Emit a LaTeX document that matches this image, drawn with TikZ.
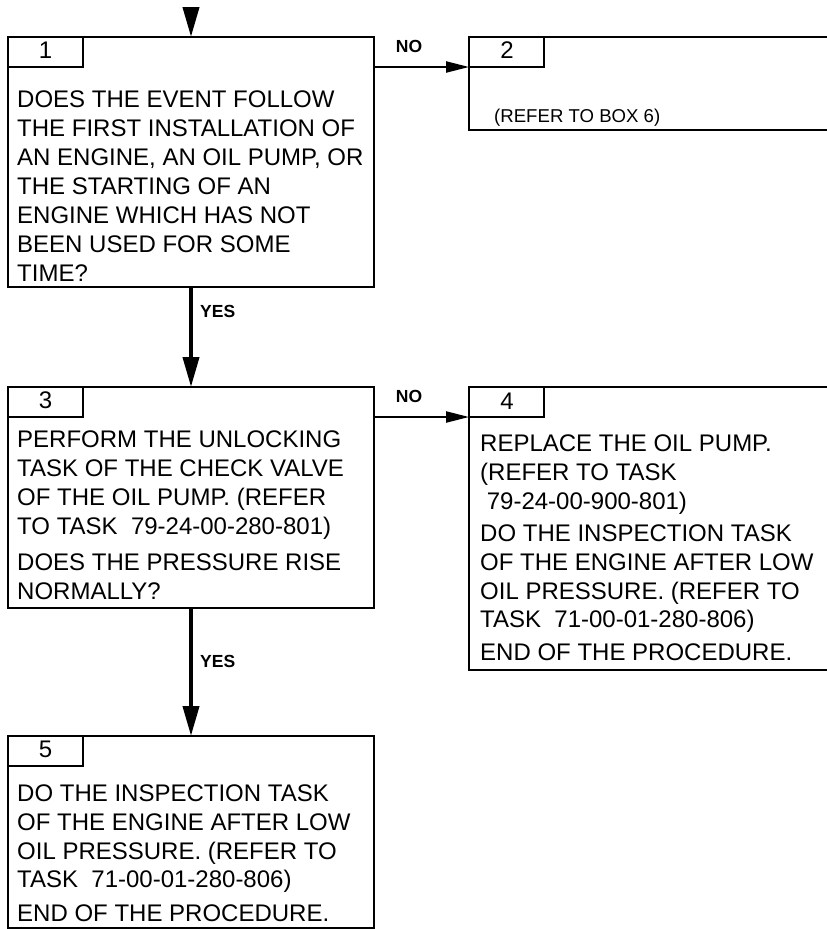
\documentclass[tikz,border=0pt]{standalone}
\usepackage{fontspec}
\setmainfont{Liberation Sans}
\usetikzlibrary{arrows.meta}
\begin{document}
\begin{tikzpicture}[x=1pt,y=-1pt,
  box/.style={draw, line width=2.8pt, inner sep=0pt, outer sep=0pt, anchor=north west},
  tabbox/.style={box, minimum width=75pt, minimum height=30pt},
  num/.style={anchor=base, inner sep=0pt, font=\fontsize{24}{29}\selectfont},
  txt/.style={anchor=base west, inner sep=0pt, font=\fontsize{24}{29}\selectfont},
  small/.style={anchor=base west, inner sep=0pt, font=\fontsize{18.6}{22}\selectfont},
  lbl/.style={anchor=base, inner sep=0pt, font=\fontsize{17.5}{20}\selectfont\bfseries},
  yesline/.style={line width=4pt, -{Triangle[length=30pt,width=16pt]}},
  noline/.style={line width=2.2pt, -{Triangle[length=23pt,width=11pt]}}]
\clip (0,0) rectangle (827,929);
\fill[white] (0,0) rectangle (827,929);
% boxes
\node[box, minimum width=366pt, minimum height=250pt] (b1) at (8,37) {};
\node[box, minimum width=380pt, minimum height=93pt] (b2) at (469,37) {};
\node[box, minimum width=366pt, minimum height=221pt] (b3) at (8,387) {};
\node[box, minimum width=380pt, minimum height=283pt] (b4) at (469,387) {};
\node[box, minimum width=366pt, minimum height=192pt] (b5) at (8,736) {};
% tabs
\node[tabbox] (t1) at (8,37) {};
\node[tabbox] (t2) at (469,37) {};
\node[tabbox] (t3) at (8,387) {};
\node[tabbox] (t4) at (469,387) {};
\node[tabbox] (t5) at (8,736) {};
\node[num] (n1) at (45.5,58) {1};
\node[num] (n2) at (507,58.5) {2};
\node[num] (n3) at (45.5,408) {3};
\node[num] (n4) at (507,409) {4};
\node[num] (n5) at (45.5,757.5) {5};
% box 1 text
\foreach \t [count=\i] in {DOES THE EVENT FOLLOW,%
THE FIRST INSTALLATION OF,%
{AN ENGINE, AN OIL PUMP, OR},%
THE STARTING OF AN,%
ENGINE WHICH HAS NOT,%
BEEN USED FOR SOME,%
TIME?}
  \node[txt] (ta\i) at (17,{107+29*(\i-1)}) {\t};
% box 2 text
\node[small] (tb1) at (494,122) {(REFER TO BOX 6)};
% box 3 text
\foreach \t [count=\i] in {PERFORM THE UNLOCKING,%
TASK OF THE CHECK VALVE,%
OF THE OIL PUMP. (REFER,%
TO TASK~~79-24-00-280-801)}
  \node[txt] (tc\i) at (17,{447+29.3*(\i-1)}) {\t};
\foreach \t [count=\i] in {DOES THE PRESSURE RISE,%
NORMALLY?}
  \node[txt] (td\i) at (17,{570.5+28.7*(\i-1)}) {\t};
% box 4 text
\foreach \t [count=\i] in {REPLACE THE OIL PUMP.,%
{(REFER TO TASK},%
{~79-24-00-900-801)}}
  \node[txt] (te\i) at (480,{451.7+28.7*(\i-1)}) {\t};
\foreach \t [count=\i] in {DO THE INSPECTION TASK,%
OF THE ENGINE AFTER LOW,%
OIL PRESSURE. (REFER TO,%
TASK~~71-00-01-280-806)}
  \node[txt] (tf\i) at (480,{541.7+28.7*(\i-1)}) {\t};
\node[txt] (tg) at (480,660) {END OF THE PROCEDURE.};
% box 5 text
\foreach \t [count=\i] in {DO THE INSPECTION TASK,%
OF THE ENGINE AFTER LOW,%
OIL PRESSURE. (REFER TO,%
TASK~~71-00-01-280-806)}
  \node[txt] (th\i) at (17,{801.7+28.7*(\i-1)}) {\t};
\node[txt] (ti) at (17,921) {END OF THE PROCEDURE.};
% connectors
\coordinate (start) at (191,7);
\draw[yesline] (start) -- (b1.north);
\draw[yesline] (b1.south) -- (b3.north);
\draw[yesline] (b3.south) -- (b5.north);
\draw[noline] (b1.east |- t2.south west) -- (t2.south west);
\draw[noline] (b3.east |- t4.south west) -- (t4.south west);
% labels
\node[lbl] (no1) at (409,52.5) {NO};
\node[lbl] (no2) at (409,402) {NO};
\node[lbl, anchor=base west] (yes1) at (200,317) {YES};
\node[lbl, anchor=base west] (yes2) at (200,667) {YES};
\end{tikzpicture}
\end{document}
